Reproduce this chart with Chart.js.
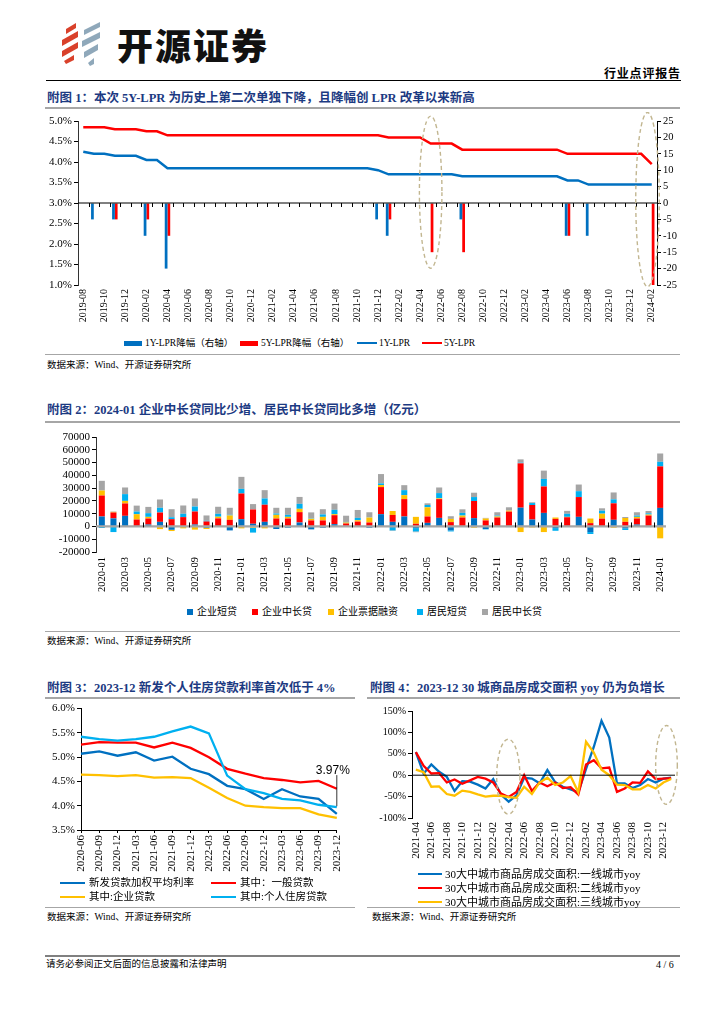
<!DOCTYPE html>
<html lang="zh-CN">
<head>
<meta charset="utf-8">
<title>行业点评报告</title>
<script src="https://cdn.jsdelivr.net/npm/chart.js@4.4.1/dist/chart.umd.min.js"></script>
<style>
  html, body { margin: 0; padding: 0; }
  body { width: 724px; height: 1024px; position: relative; overflow: hidden; background: #fff;
         font-family: 'Liberation Serif', 'Noto Sans CJK SC', serif; color: #000; }
  .abs { position: absolute; }
  .title { position: absolute; font-weight: bold; color: #1C3A82; font-size: 12.5px; line-height: 16px; white-space: nowrap; }
  .rule { position: absolute; height: 0; border-top: 2px solid #a6a6a6; }
  .thin { border-top-width: 1.5px; }
  .src { position: absolute; font-size: 9.5px; line-height: 12px; white-space: nowrap; }
  canvas { position: absolute; }
</style>
</head>
<body>

<!-- header -->
<svg class="abs" style="left:56px;top:20px" width="50" height="46" viewBox="0 0 50 46">
  <g fill="#D9412B">
    <polygon points="10,9 20,3 20,8 10,14"/>
    <polygon points="6,20 22,11 22,17 6,26"/>
    <polygon points="6,31 22,22 22,28 6,37"/>
    <polygon points="8,41 18,35 18,40 10,44"/>
  </g>
  <g fill="#8FA8BA">
    <polygon points="28,10 44,2 44,7 28,15"/>
    <polygon points="26,21 44,12 44,18 26,27"/>
    <polygon points="28,32 42,24 42,30 28,38"/>
    <polygon points="32,43 38,38 38,44 34,46"/>
  </g>
</svg>
<div class="abs" style="left:117px;top:20px;font-family:'Noto Sans CJK SC';font-weight:900;font-size:36px;line-height:48px;letter-spacing:2px;color:#111">开源证券</div>
<div class="abs" style="left:604px;top:66px;font-family:'Noto Sans CJK SC';font-weight:bold;font-size:12px;line-height:14px;letter-spacing:0.8px">行业点评报告</div>
<div class="abs" style="left:46px;top:80px;width:635px;border-top:1.5px solid #000"></div>

<!-- figure 1 -->
<div class="title" style="left:47px;top:90px">附图 1：本次 5Y-LPR 为历史上第二次单独下降，且降幅创 LPR 改革以来新高</div>
<div class="rule" style="left:45px;top:107px;width:635px"></div>
<canvas id="c1" width="660" height="215" style="left:40px;top:112px"></canvas>
<div class="rule thin" style="left:45px;top:354px;width:635px"></div>
<div class="src" style="left:47px;top:359px">数据来源：Wind、开源证券研究所</div>

<!-- figure 2 -->
<div class="title" style="left:47px;top:402px">附图 2：2024-01 企业中长贷同比少增、居民中长贷同比多增（亿元）</div>
<div class="rule" style="left:45px;top:421px;width:635px"></div>
<canvas id="c2" width="650" height="172" style="left:40px;top:428px"></canvas>
<div class="rule thin" style="left:45px;top:631px;width:635px"></div>
<div class="src" style="left:47px;top:635px">数据来源：Wind、开源证券研究所</div>

<!-- figure 3 / 4 -->
<div class="title" style="left:47px;top:680px">附图 3：2023-12 新发个人住房贷款利率首次低于 4%</div>
<div class="title" style="left:370px;top:680px">附图 4：2023-12 30 城商品房成交面积 yoy 仍为负增长</div>
<div class="rule" style="left:45px;top:697px;width:310px"></div>
<div class="rule" style="left:367px;top:697px;width:313px"></div>
<canvas id="c3" width="312" height="172" style="left:40px;top:700px"></canvas>
<canvas id="c4" width="325" height="165" style="left:365px;top:700px"></canvas>
<div class="rule thin" style="left:45px;top:907px;width:310px"></div>
<div class="rule thin" style="left:367px;top:907px;width:313px"></div>
<div class="src" style="left:47px;top:911px">数据来源：Wind、开源证券研究所</div>
<div class="src" style="left:372px;top:911px">数据来源：Wind、开源证券研究所</div>

<!-- footer -->
<div class="abs" style="left:45px;top:955px;width:635px;border-top:2.5px solid #808080"></div>
<div class="abs" style="left:46px;top:958px;font-size:9.5px;line-height:13px">请务必参阅正文后面的信息披露和法律声明</div>
<div class="abs" style="left:656px;top:958px;font-size:10px;line-height:13px">4 / 6</div>

<script>
// ---------- figure 1: LPR ----------
const lprMonths = [
  '2019-08','2019-09','2019-10','2019-11','2019-12',
  '2020-01','2020-02','2020-03','2020-04','2020-05','2020-06','2020-07','2020-08','2020-09','2020-10','2020-11','2020-12',
  '2021-01','2021-02','2021-03','2021-04','2021-05','2021-06','2021-07','2021-08','2021-09','2021-10','2021-11','2021-12',
  '2022-01','2022-02','2022-03','2022-04','2022-05','2022-06','2022-07','2022-08','2022-09','2022-10','2022-11','2022-12',
  '2023-01','2023-02','2023-03','2023-04','2023-05','2023-06','2023-07','2023-08','2023-09','2023-10','2023-11','2023-12',
  '2024-01','2024-02'
];
const lpr1y = [
  4.25,4.20,4.20,4.15,4.15,
  4.15,4.05,4.05,3.85,3.85,3.85,3.85,3.85,3.85,3.85,3.85,3.85,
  3.85,3.85,3.85,3.85,3.85,3.85,3.85,3.85,3.85,3.85,3.85,3.80,
  3.70,3.70,3.70,3.70,3.70,3.70,3.70,3.65,3.65,3.65,3.65,3.65,
  3.65,3.65,3.65,3.65,3.65,3.55,3.55,3.45,3.45,3.45,3.45,3.45,
  3.45,3.45
];
const lpr5y = [
  4.85,4.85,4.85,4.80,4.80,
  4.80,4.75,4.75,4.65,4.65,4.65,4.65,4.65,4.65,4.65,4.65,4.65,
  4.65,4.65,4.65,4.65,4.65,4.65,4.65,4.65,4.65,4.65,4.65,4.65,
  4.60,4.60,4.60,4.60,4.45,4.45,4.45,4.30,4.30,4.30,4.30,4.30,
  4.30,4.30,4.30,4.30,4.30,4.20,4.20,4.20,4.20,4.20,4.20,4.20,
  4.20,3.95
];
// cuts in bp (right axis)
const cut1y = [
  null,-5,null,-5,null,
  null,-10,null,-20,null,null,null,null,null,null,null,null,
  null,null,null,null,null,null,null,null,null,null,null,-5,
  -10,null,null,null,null,null,null,-5,null,null,null,null,
  null,null,null,null,null,-10,null,-10,null,null,null,null,
  null,null
];
const cut5y = [
  null,null,null,-5,null,
  null,-5,null,-10,null,null,null,null,null,null,null,null,
  null,null,null,null,null,null,null,null,null,null,null,null,
  -5,null,null,null,-15,null,null,-15,null,null,null,null,
  null,null,null,null,null,-10,null,null,null,null,null,null,
  null,-25
];
const lprSeriesNames = ['1Y-LPR降幅（右轴）', '5Y-LPR降幅（右轴）', '1Y-LPR', '5Y-LPR'];

// ---------- figure 2: new loans (亿元) ----------
const loanMonths = [
  '2020-01','2020-02','2020-03','2020-04','2020-05','2020-06','2020-07','2020-08','2020-09','2020-10','2020-11','2020-12',
  '2021-01','2021-02','2021-03','2021-04','2021-05','2021-06','2021-07','2021-08','2021-09','2021-10','2021-11','2021-12',
  '2022-01','2022-02','2022-03','2022-04','2022-05','2022-06','2022-07','2022-08','2022-09','2022-10','2022-11','2022-12',
  '2023-01','2023-02','2023-03','2023-04','2023-05','2023-06','2023-07','2023-08','2023-09','2023-10','2023-11','2023-12',
  '2024-01'
];
const entShort = [
  7800,6300,8300,200,1500,3600,-2600,300,1500,-1000,300,-3100,
  5700,2100,3600,-2000,-1000,3100,-2300,-1000,1800,-200,200,-1000,
  9600,3600,7800,-1300,2800,6700,-3100,0,6500,-2000,0,-500,
  14700,5400,10600,-1300,-300,7500,-4400,200,5200,-1500,1500,-500,
  14500
];
const entLong = [
  16400,4600,9700,5200,4700,7300,5700,7000,10200,3900,6000,5200,
  20100,11200,13400,6200,6200,8100,4700,4700,7000,2300,3600,3100,
  21200,5400,13600,2100,5000,14700,3400,7000,13400,4700,7000,11600,
  34700,11400,20700,5900,7200,15500,2600,5900,12900,3600,4700,8500,
  32500
];
const entBill = [
  3900,500,2000,4200,1300,-2100,-1000,-1500,-2500,-1000,1300,3400,
  -1500,-1000,-1500,2900,1300,2600,1300,2800,800,800,1100,3900,
  1600,3100,3100,5400,7200,600,2500,1500,-1000,1500,800,800,
  -4400,-800,-4400,1100,300,-500,3600,3900,-1000,3000,1300,800,
  -9300
];
const hhShort = [
  -1200,-4400,5300,2100,2900,3700,1500,2600,3900,500,2300,500,
  3600,-3800,4900,1000,1600,3900,300,1900,3400,400,1800,200,
  1300,-3100,3900,-2600,1800,4100,-800,2100,3100,-300,700,0,
  500,1500,5900,-2100,2400,4600,-1500,2300,3100,-1300,1000,1000,
  3600
];
const hhLong = [
  7600,300,5200,4600,4900,6500,6300,6500,6300,4200,5500,5500,
  9400,4200,6500,4500,5500,5400,4700,4100,4900,4900,6200,3900,
  7300,-400,3900,-600,1300,4400,2100,2800,3400,500,2600,2600,
  2600,600,6500,0,2300,5200,0,1900,5400,800,2600,1800,
  6500
];
const loanSeriesNames = ['企业短贷', '企业中长贷', '企业票据融资', '居民短贷', '居民中长贷'];

// ---------- figure 3: lending rates (%) ----------
const rateQuarters = ['2020-06','2020-09','2020-12','2021-03','2021-06','2021-09','2021-12','2022-03',
                      '2022-06','2022-09','2022-12','2023-03','2023-06','2023-09','2023-12'];
const rateAvg      = [5.07,5.12,5.03,5.10,4.93,5.01,4.76,4.65,4.41,4.34,4.14,4.34,4.19,4.14,3.83];
const rateGeneral  = [5.26,5.31,5.30,5.30,5.20,5.30,5.19,5.00,4.76,4.66,4.57,4.53,4.48,4.51,4.35];
const rateCorp     = [4.64,4.63,4.61,4.63,4.58,4.59,4.57,4.37,4.16,4.00,3.97,3.95,3.95,3.82,3.75];
const rateMortgage = [5.42,5.37,5.34,5.37,5.42,5.53,5.63,5.49,4.62,4.34,4.26,4.14,4.11,4.02,3.97];
const rateSeriesNames = ['新发贷款加权平均利率', '其中：一般贷款', '其中:企业贷款', '其中:个人住房贷款'];

// ---------- figure 4: 30-city sales area yoy (%) ----------
const saleMonths = [
  '2021-04','2021-05','2021-06','2021-07','2021-08','2021-09','2021-10','2021-11','2021-12',
  '2022-01','2022-02','2022-03','2022-04','2022-05','2022-06','2022-07','2022-08','2022-09','2022-10','2022-11','2022-12',
  '2023-01','2023-02','2023-03','2023-04','2023-05','2023-06','2023-07','2023-08','2023-09','2023-10','2023-11','2023-12',
  '2024-01'
];
const tier1 = [54,4,25,8,-4,-37,-14,-15,-22,-31,-9,-45,-62,-47,-6,-8,-19,12,-16,-27,-33,-40,15,66,127,88,-19,-19,-30,-23,-9,-17,-8,-6];
const tier2 = [54,22,4,5,-17,-10,-20,-12,-4,-8,-17,-43,-51,-39,0,-37,-17,-26,-17,-30,-28,-45,25,35,16,18,-39,-31,-17,-18,9,-9,-8,-7];
const tier3 = [13,7,-27,-26,-44,-48,-36,-39,-45,-50,-48,-48,-51,-53,-27,-44,-17,-6,-23,-17,-2,-40,78,53,13,0,-22,-23,-33,-33,-23,-31,-17,-9];
const saleSeriesNames = ['30大中城市商品房成交面积:一线城市yoy', '30大中城市商品房成交面积:二线城市yoy', '30大中城市商品房成交面积:三线城市yoy'];

// ---------- styling ----------
const BLUE = '#0070C0', RED = '#FF0000', YELLOW = '#FFC000', SKY = '#00B0F0', GREY = '#A5A5A5';
const serif = "'Liberation Serif', 'Noto Sans CJK SC', serif";

Chart.defaults.font.family = serif;
Chart.defaults.color = '#000';
Chart.defaults.animation = false;
Chart.defaults.plugins.legend.display = false;
Chart.defaults.plugins.tooltip.enabled = false;
Chart.defaults.elements.point.radius = 0;
Chart.defaults.elements.line.tension = 0;

function everyOther(value, index) {
  return index % 2 === 0 ? this.getLabelForValue(value) : '';
}

// horizontal line at value 0, with optional small ticks at category boundaries
const zeroLine = {
  id: 'zeroLine',
  afterDatasetsDraw(chart, args, o) {
    const { ctx, chartArea } = chart;
    const y = chart.scales[o.axis].getPixelForValue(0);
    ctx.save();
    ctx.strokeStyle = o.color;
    ctx.lineWidth = o.width;
    ctx.beginPath();
    ctx.moveTo(chartArea.left, y);
    ctx.lineTo(chartArea.right, y);
    ctx.stroke();
    if (o.ticks) {
      const xs = chart.scales.x;
      const n = chart.data.labels.length;
      ctx.strokeStyle = '#000';
      ctx.lineWidth = 1;
      ctx.beginPath();
      for (let i = o.ticks.start; i < n - 1; i += o.ticks.every) {
        const x = Math.round(xs.getPixelForValue(i + 0.5)) + 0.5;
        ctx.moveTo(x, y + o.ticks.from);
        ctx.lineTo(x, y + o.ticks.to);
      }
      ctx.stroke();
    }
    ctx.restore();
  }
};

// dashed highlight ellipses, placed in data units
const ellipses = {
  id: 'ellipses',
  afterDatasetsDraw(chart, args, o) {
    const { ctx } = chart;
    const xs = chart.scales.x, ys = chart.scales[o.axis];
    o.items.forEach(e => {
      const cx = xs.getPixelForValue(e.x);
      const rx = Math.abs(xs.getPixelForValue(e.x + e.dx) - cx);
      const y1 = ys.getPixelForValue(e.top), y2 = ys.getPixelForValue(e.bottom);
      ctx.save();
      ctx.strokeStyle = '#C2B690';
      ctx.lineWidth = 1.4;
      ctx.setLineDash([4, 3]);
      ctx.beginPath();
      ctx.ellipse(cx, (y1 + y2) / 2, rx, Math.abs(y2 - y1) / 2, 0, 0, Math.PI * 2);
      ctx.stroke();
      ctx.restore();
    });
  }
};

// "3.97%" call-out on figure 3
const callout = {
  id: 'callout',
  afterDatasetsDraw(chart, args, o) {
    const { ctx } = chart;
    const xs = chart.scales.x, ys = chart.scales.y;
    const x = xs.getPixelForValue(o.index);
    ctx.save();
    ctx.strokeStyle = '#000';
    ctx.lineWidth = 0.8;
    ctx.beginPath();
    ctx.moveTo(x, ys.getPixelForValue(o.lineTop));
    ctx.lineTo(x, ys.getPixelForValue(o.value));
    ctx.stroke();
    ctx.fillStyle = '#000';
    ctx.font = "12px 'Liberation Sans', Arial, sans-serif";
    ctx.textAlign = 'center';
    ctx.textBaseline = 'middle';
    ctx.fillText(o.text, x + o.dx, ys.getPixelForValue(o.textAt));
    ctx.restore();
  }
};

const axisGrid = { drawOnChartArea: false, tickLength: 4, color: '#000' };

// ---------- figure 1 ----------
new Chart(document.getElementById('c1'), {
  data: {
    labels: lprMonths,
    datasets: [
      { type: 'line', label: lprSeriesNames[2], data: lpr1y, yAxisID: 'y', borderColor: BLUE, borderWidth: 2.5, order: 0 },
      { type: 'line', label: lprSeriesNames[3], data: lpr5y, yAxisID: 'y', borderColor: RED, borderWidth: 2.5, order: 0 },
      { type: 'bar', label: lprSeriesNames[0], data: cut1y, yAxisID: 'y1', backgroundColor: BLUE,
        categoryPercentage: 0.52, barPercentage: 1, order: 1 },
      { type: 'bar', label: lprSeriesNames[1], data: cut5y, yAxisID: 'y1', backgroundColor: RED,
        categoryPercentage: 0.52, barPercentage: 1, order: 1 }
    ]
  },
  options: {
    responsive: false,
    layout: { padding: { top: 9 } },
    scales: {
      x: {
        offset: true,
        grid: { display: false, drawTicks: false },
        border: { display: false },
        ticks: { autoSkip: false, minRotation: 90, maxRotation: 90, padding: 4, font: { size: 10 }, callback: everyOther },
        afterFit(s) { s.height = 42; }
      },
      y: {
        position: 'left', min: 1, max: 5,
        ticks: { autoSkip: false, stepSize: 0.5, padding: 2, font: { size: 11 }, callback: v => v.toFixed(1) + '%' },
        grid: axisGrid, border: { color: '#333' },
        afterFit(s) { s.width = 38; }
      },
      y1: {
        position: 'right', min: -25, max: 25,
        ticks: { autoSkip: false, stepSize: 5, padding: 2, font: { size: 10.5 } },
        grid: axisGrid, border: { color: '#000' },
        afterFit(s) { s.width = 43; }
      }
    },
    plugins: {
      zeroLine: { axis: 'y1', color: '#000', width: 1, ticks: { start: 0, every: 1, from: 0, to: 4 } },
      ellipses: { axis: 'y1', items: [
        { x: 33, dx: 1.07, top: 26.5, bottom: -19.9 },
        { x: 53.6, dx: 1.12, top: 27.6, bottom: -25.5 }
      ] }
    }
  },
  plugins: [zeroLine, ellipses]
});

// ---------- figure 2 ----------
const loanSeries = [entShort, entLong, entBill, hhShort, hhLong];
const loanColors = [BLUE, RED, YELLOW, SKY, GREY];
new Chart(document.getElementById('c2'), {
  type: 'bar',
  data: {
    labels: loanMonths,
    datasets: loanSeries.map((d, i) => ({
      label: loanSeriesNames[i], data: d, backgroundColor: loanColors[i],
      categoryPercentage: 1, barPercentage: 0.52
    }))
  },
  options: {
    responsive: false,
    layout: { padding: { top: 9, right: 24 } },
    scales: {
      x: {
        stacked: true, offset: true,
        grid: { display: false, drawTicks: false },
        border: { display: false },
        ticks: { autoSkip: false, minRotation: 90, maxRotation: 90, padding: 5, font: { size: 10.5 }, callback: everyOther },
        afterFit(s) { s.height = 48; }
      },
      y: {
        stacked: true, min: -20000, max: 70000,
        ticks: { autoSkip: false, stepSize: 10000, padding: 2, font: { size: 11 }, callback: v => String(v) },
        grid: axisGrid, border: { color: '#333' },
        afterFit(s) { s.width = 56; }
      }
    },
    plugins: {
      zeroLine: { axis: 'y', color: '#A6A6A6', width: 2.2, ticks: { start: 1, every: 2, from: -4, to: 1 } }
    }
  },
  plugins: [zeroLine]
});

// ---------- figure 3 ----------
const rateSeries = [rateAvg, rateGeneral, rateCorp, rateMortgage];
const rateColors = [BLUE, RED, YELLOW, SKY];
new Chart(document.getElementById('c3'), {
  type: 'line',
  data: {
    labels: rateQuarters,
    datasets: rateSeries.map((d, i) => ({
      label: rateSeriesNames[i], data: d, borderColor: rateColors[i], borderWidth: 2.3, order: 3 - i
    }))
  },
  options: {
    responsive: false,
    layout: { padding: { top: 8 } },
    scales: {
      x: {
        offset: false,
        grid: { drawOnChartArea: false, tickLength: 3, color: '#000' },
        border: { color: '#000' },
        ticks: { autoSkip: false, minRotation: 90, maxRotation: 90, padding: 2, font: { size: 11 } },
        afterFit(s) { s.height = 42; }
      },
      y: {
        min: 3.5, max: 6.0,
        ticks: { autoSkip: false, stepSize: 0.5, padding: 2, font: { size: 11 }, callback: v => v.toFixed(1) + '%' },
        grid: axisGrid, border: { color: '#000' },
        afterFit(s) { s.width = 41; }
      }
    },
    plugins: {
      callout: { index: 14, value: 3.99, lineTop: 4.63, textAt: 4.72, dx: -4, text: '3.97%' }
    }
  },
  plugins: [callout]
});

// ---------- figure 4 ----------
const saleSeries = [tier1, tier2, tier3];
const saleColors = [BLUE, RED, YELLOW];
new Chart(document.getElementById('c4'), {
  type: 'line',
  data: {
    labels: saleMonths,
    datasets: saleSeries.map((d, i) => ({
      label: saleSeriesNames[i], data: d, borderColor: saleColors[i], borderWidth: 2.3, order: 2 - i
    }))
  },
  options: {
    responsive: false,
    layout: { padding: { top: 11, right: 15 } },
    scales: {
      x: {
        offset: true,
        grid: { display: false, drawTicks: false },
        border: { display: false },
        ticks: { autoSkip: false, minRotation: 90, maxRotation: 90, padding: 4, font: { size: 11 }, callback: everyOther },
        afterFit(s) { s.height = 47; }
      },
      y: {
        min: -100, max: 150,
        ticks: { autoSkip: false, stepSize: 50, padding: 2, font: { size: 10 }, callback: v => v + '%' },
        grid: axisGrid, border: { color: '#000' },
        afterFit(s) { s.width = 47; }
      }
    },
    plugins: {
      zeroLine: { axis: 'y', color: '#000', width: 1 },
      ellipses: { axis: 'y', items: [
        { x: 11.95, dx: 1.5, top: 84, bottom: -91 },
        { x: 32.4, dx: 1.4, top: 116, bottom: -68 }
      ] }
    }
  },
  plugins: [zeroLine, ellipses]
});

// ---------- HTML legends ----------
function addLegend(items, fontSize) {
  items.forEach(it => {
    const sw = document.createElement('div');
    sw.className = 'abs';
    sw.style.cssText = `left:${it.x}px;top:${it.y - it.h / 2}px;width:${it.w}px;height:${it.h}px;background:${it.color}`;
    document.body.appendChild(sw);
    const tx = document.createElement('div');
    tx.className = 'abs';
    tx.style.cssText = `left:${it.x + it.w + it.gap}px;top:${it.y - 7}px;font-size:${fontSize}px;line-height:14px;white-space:nowrap`;
    tx.textContent = it.label;
    document.body.appendChild(tx);
  });
}

addLegend([
  { x: 124, y: 343, w: 18, h: 5, gap: 3, color: BLUE, label: lprSeriesNames[0] },
  { x: 240, y: 343, w: 18, h: 5, gap: 3, color: RED,  label: lprSeriesNames[1] },
  { x: 357, y: 343, w: 20, h: 2, gap: 2, color: BLUE, label: lprSeriesNames[2] },
  { x: 422, y: 343, w: 20, h: 2, gap: 2, color: RED,  label: lprSeriesNames[3] }
], 9.5);

const loanLegendX = [187, 252, 328, 417, 482];
addLegend(loanSeriesNames.map((name, i) => (
  { x: loanLegendX[i], y: 612, w: 6, h: 6, gap: 4, color: loanColors[i], label: name }
)), 10);

const rateLegendPos = [[60, 883], [211, 883], [60, 897], [211, 897]];
addLegend(rateSeriesNames.map((name, i) => (
  { x: rateLegendPos[i][0], y: rateLegendPos[i][1], w: 25, h: 2.5, gap: 4, color: rateColors[i], label: name }
)), 10.5);

const saleLegendY = [874, 888, 902];
addLegend(saleSeriesNames.map((name, i) => (
  { x: 418, y: saleLegendY[i], w: 24, h: 2.5, gap: 3, color: saleColors[i], label: name }
)), 11);
</script>
</body>
</html>
